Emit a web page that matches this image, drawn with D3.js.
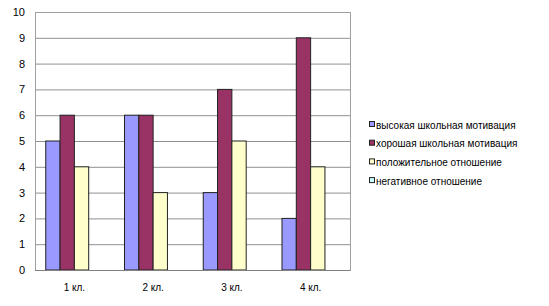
<!DOCTYPE html>
<html lang="ru">
<head>
<meta charset="UTF-8">
<title>Мотивация</title>
<script src="https://cdn.jsdelivr.net/npm/d3@7"></script>
<style>
body { margin: 0; background: #fff; }
text { font-family: Arial, "Liberation Sans", sans-serif; }
</style>
</head>
<body>
<div id="chart"></div>
<script>
// Data
const categories = ["1 кл.", "2 кл.", "3 кл.", "4 кл."];
const seriesNames = ["высокая школьная мотивация", "хорошая школьная мотивация", "положительное отношение", "негативное отношение"];
const highValues = [5, 6, 3, 2];
const goodValues = [6, 6, 7, 9];
const positiveValues = [4, 3, 5, 4];
const negativeValues = [0, 0, 0, 0];
const yTicks = [0, 1, 2, 3, 4, 5, 6, 7, 8, 9, 10];
const colors = ["#9999ff", "#993366", "#ffffcc", "#ccffff"];

const width = 549, height = 306;
const margin = { top: 12, right: 199, bottom: 36, left: 35 };

const series = [highValues, goodValues, positiveValues, negativeValues];

const svg = d3.select("#chart").append("svg")
    .attr("width", width).attr("height", height);

const x = d3.scaleBand()
    .domain(categories)
    .range([margin.left, width - margin.right]);

// Excel-like 150% gap width: 4 bars + 1.5 bar gap per category
const barW = x.bandwidth() / (series.length + 1.5);
const x1 = d3.scaleBand()
    .domain(d3.range(series.length))
    .range([barW * 0.75, x.bandwidth() - barW * 0.75]);

const y = d3.scaleLinear()
    .domain([0, 10])
    .range([height - margin.bottom, margin.top]);

// gridlines
svg.append("g")
    .selectAll("line")
    .data(yTicks.slice(1, -1))
    .enter().append("line")
    .attr("x1", margin.left).attr("x2", width - margin.right)
    .attr("y1", d => y(d) + 0.5).attr("y2", d => y(d) + 0.5)
    .attr("stroke", "#909090");

// plot border
svg.append("rect")
    .attr("x", margin.left + 0.5).attr("y", margin.top + 0.5)
    .attr("width", width - margin.left - margin.right)
    .attr("height", height - margin.top - margin.bottom)
    .attr("fill", "none").attr("stroke", "#a0a0a0");

// bars
series.forEach((vals, si) => {
    svg.append("g")
        .selectAll("rect")
        .data(vals)
        .enter().append("rect")
        .attr("x", (d, i) => x(categories[i]) + x1(si))
        .attr("y", d => y(d))
        .attr("width", x1.bandwidth())
        .attr("height", d => y(0) - y(d))
        .attr("fill", colors[si])
        .attr("stroke", d => d > 0 ? "#222" : "none")
        .attr("stroke-width", 1);
});

// axis line at zero
svg.append("line")
    .attr("x1", margin.left).attr("x2", width - margin.right)
    .attr("y1", y(0) + 0.5).attr("y2", y(0) + 0.5)
    .attr("stroke", "#808080");

// y axis
const yAxis = svg.append("g")
    .attr("transform", `translate(${margin.left},0)`)
    .call(d3.axisLeft(y).tickValues(yTicks).tickSize(0).tickPadding(10));
yAxis.select(".domain").remove();
yAxis.selectAll("text").attr("font-size", 11).attr("fill", "#000")
    .attr("font-family", "Arial, 'Liberation Sans', sans-serif");

// x axis
const xAxis = svg.append("g")
    .attr("transform", `translate(0,${y(0)})`)
    .call(d3.axisBottom(x).tickSize(0).tickPadding(14));
xAxis.select(".domain").remove();
xAxis.selectAll("text").attr("font-size", 10).attr("fill", "#000")
    .attr("font-family", "Arial, 'Liberation Sans', sans-serif");

// legend
const legend = svg.append("g")
    .attr("transform", "translate(369,125)");
seriesNames.forEach((name, i) => {
    const g = legend.append("g").attr("transform", `translate(0,${i * 18.7})`);
    g.append("rect")
        .attr("x", 0.5).attr("y", -3.5)
        .attr("width", 5).attr("height", 5)
        .attr("fill", colors[i]).attr("stroke", "#222");
    g.append("text")
        .attr("x", 7).attr("y", 0)
        .attr("dy", "0.35em")
        .attr("font-size", 10)
        .text(name);
});
</script>
</body>
</html>
